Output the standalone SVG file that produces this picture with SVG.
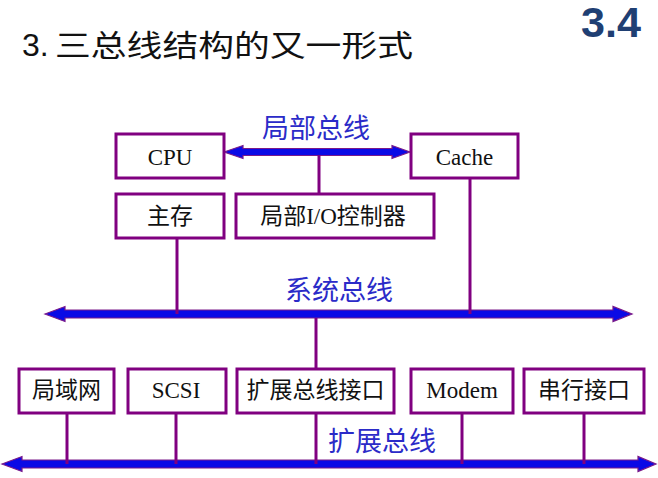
<svg xmlns="http://www.w3.org/2000/svg" width="658" height="478" viewBox="0 0 658 478">
<style>
.box{fill:#fff;stroke:#800080;stroke-width:3}
.lbl{font-family:"Liberation Serif","Noto Sans CJK SC",serif;font-size:23px;fill:#111;text-anchor:middle}
.bus{fill:#0a0ae6;stroke:#7a1a8a;stroke-width:1.2;stroke-linejoin:miter}
.wire{stroke:#800080;stroke-width:3;fill:none}
.buslbl{font-family:"Noto Sans CJK SC",sans-serif;font-size:27px;fill:#2b2bc8}
</style>
<rect width="658" height="478" fill="#fff"/>
<text x="22" y="56" font-family="Liberation Sans,sans-serif" font-size="32" fill="#111">3.</text>
<text x="55" y="56" font-family="Noto Sans CJK SC,sans-serif" font-size="30" fill="#111" textLength="358" lengthAdjust="spacingAndGlyphs">三总线结构的又一形式</text>
<text x="581" y="37" font-family="Liberation Sans,sans-serif" font-size="42" font-weight="bold" fill="#1f3f73" textLength="60" lengthAdjust="spacingAndGlyphs">3.4</text>

<g id="connectors">
<polygon class="bus" points="224,152 243,145.5 243,148.5 392,148.5 392,145.5 410,152 392,158.5 392,155.5 243,155.5 243,158.5"/>
<polygon class="bus" points="45,314 65,306.5 65,310 613,310 613,306.5 632,314 613,321.5 613,318 65,318 65,321.5"/>
<polygon class="bus" points="2,464 22,456.5 22,460 638,460 638,456.5 656,464 638,471.5 638,468 22,468 22,471.5"/>
<line class="wire" x1="319" y1="155" x2="319" y2="194"/>
<line class="wire" x1="470" y1="178" x2="470" y2="314"/>
<line class="wire" x1="177" y1="238" x2="177" y2="314"/>
<line class="wire" x1="316" y1="318" x2="316" y2="369"/>
<line class="wire" x1="316" y1="413" x2="316" y2="464"/>
<line class="wire" x1="67" y1="413" x2="67" y2="464"/>
<line class="wire" x1="176" y1="413" x2="176" y2="464"/>
<line class="wire" x1="462" y1="413" x2="462" y2="464"/>
<line class="wire" x1="584" y1="413" x2="584" y2="464"/>
<text class="buslbl" x="262" y="138">局部总线</text>
<text class="buslbl" x="285" y="300">系统总线</text>
<text class="buslbl" x="328" y="451">扩展总线</text>
</g>

<g id="cpu"><rect class="box" x="116" y="134" width="108" height="44"/><text class="lbl" x="170" y="165">CPU</text></g>
<g id="cache"><rect class="box" x="411" y="134" width="107" height="44"/><text class="lbl" x="464.5" y="165">Cache</text></g>
<g id="mem"><rect class="box" x="116" y="194" width="108" height="44"/><text class="lbl" x="170" y="224">主存</text></g>
<g id="localio"><rect class="box" x="236" y="194" width="198" height="44"/><text class="lbl" x="333" y="224">局部I/O控制器</text></g>
<g id="lan"><rect class="box" x="19" y="369" width="95" height="44"/><text class="lbl" x="66.5" y="398">局域网</text></g>
<g id="scsi"><rect class="box" x="128" y="369" width="98" height="44"/><text class="lbl" x="176" y="398">SCSI</text></g>
<g id="expif"><rect class="box" x="237" y="369" width="157" height="44"/><text class="lbl" x="315.5" y="398">扩展总线接口</text></g>
<g id="modem"><rect class="box" x="411" y="369" width="102" height="44"/><text class="lbl" x="462" y="398">Modem</text></g>
<g id="serial"><rect class="box" x="524" y="369" width="120" height="44"/><text class="lbl" x="584" y="398">串行接口</text></g>
</svg>
